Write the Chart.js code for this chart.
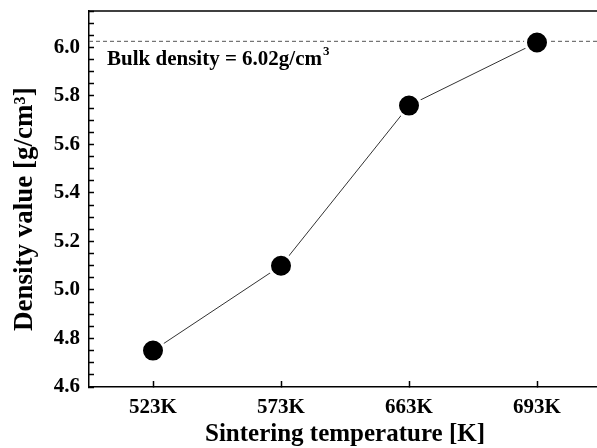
<!DOCTYPE html>
<html>
<head>
<meta charset="utf-8">
<script src="https://cdn.jsdelivr.net/npm/chart.js@4.4.1/dist/chart.umd.min.js"></script>
<style>
  html, body { margin: 0; padding: 0; background: #fff; overflow: hidden; }
  #wrap { width: 601px; height: 448px; }
</style>
</head>
<body>
<div id="wrap"><canvas id="densityChart"></canvas></div>
<script>
// data
const temperatures = ['523K', '573K', '663K', '693K'];
const densityValues = [4.75, 5.10, 5.76, 6.02];
const bulkDensity = 6.025;
const bulkLabel = 'Bulk density = 6.02g/cm';
const yMin = 4.6, yMax = 6.15;

const serif = '"Liberation Serif", "Times New Roman", serif';

// dashed bulk line, label and top frame
const bulkLine = {
  id: 'bulkLine',
  beforeDatasetsDraw(chart) {
    const { ctx, chartArea } = chart;
    const y = chart.scales.y.getPixelForValue(bulkDensity);
    ctx.save();
    ctx.strokeStyle = '#555';
    ctx.lineWidth = 1;
    ctx.setLineDash([4, 3]);
    ctx.beginPath();
    ctx.moveTo(chartArea.left, y);
    ctx.lineTo(chartArea.right, y);
    ctx.stroke();
    ctx.setLineDash([]);

    ctx.fillStyle = '#000';
    ctx.textBaseline = 'alphabetic';
    ctx.font = 'bold 21px ' + serif;
    const x0 = chartArea.left + 18;
    ctx.fillText(bulkLabel, x0, y + 24);
    const w = ctx.measureText(bulkLabel).width;
    ctx.font = 'bold 13px ' + serif;
    ctx.fillText('3', x0 + w + 1, y + 14);

    ctx.strokeStyle = '#000';
    ctx.lineWidth = 1.5;
    ctx.beginPath();
    ctx.moveTo(chartArea.left, chartArea.top);
    ctx.lineTo(chartArea.right, chartArea.top);
    ctx.stroke();
    ctx.restore();
  }
};

new Chart(document.getElementById('densityChart'), {
  type: 'line',
  data: {
    labels: temperatures,
    datasets: [{
      data: densityValues,
      borderColor: '#333',
      borderWidth: 1,
      pointRadius: 11.5,
      pointHoverRadius: 11.5,
      pointBackgroundColor: '#000',
      pointBorderColor: '#fff',
      pointBorderWidth: 3,
      tension: 0
    }]
  },
  options: {
    responsive: true,
    maintainAspectRatio: false,
    animation: false,
    layout: { padding: { top: 11, right: 0, bottom: 0, left: 0 }, autoPadding: false },
    plugins: { legend: { display: false }, tooltip: { enabled: false } },
    scales: {
      x: {
        offset: true,
        afterFit(scale) {
          scale.height = 61;
          scale.paddingLeft = 0;
          scale.paddingRight = 0;
        },
        grid: { display: true, drawOnChartArea: false, offset: false, tickLength: -6, tickColor: '#000', tickWidth: 1.5 },
        border: { display: true, color: '#000', width: 1.5 },
        ticks: { color: '#000', padding: 14, font: { family: serif, size: 21, weight: 'bold' } },
        title: {
          display: true,
          text: 'Sintering temperature [K]',
          color: '#000',
          padding: { top: 0, bottom: 1 },
          font: { family: serif, size: 25, weight: 'bold', lineHeight: 1 }
        }
      },
      y: {
        min: yMin,
        max: yMax,
        afterFit(scale) {
          scale.width = 89;
          scale.paddingTop = 0;
          scale.paddingBottom = 0;
        },
        grid: { display: true, drawOnChartArea: false, tickLength: -5, tickColor: '#000', tickWidth: 1.5 },
        border: { display: true, color: '#000', width: 1.5 },
        ticks: {
          stepSize: 0.05,
          autoSkip: false,
          color: '#000',
          padding: 14,
          font: { family: serif, size: 21, weight: 'bold' },
          callback(v) {
            return Math.round(v * 100) % 20 === 0 ? v.toFixed(1) : '';
          }
        },
        title: {
          display: true,
          text: 'Density value [g/cm³]   ',
          color: '#000',
          padding: { top: 12, bottom: 0 },
          font: { family: serif, size: 27, weight: 'bold', lineHeight: 1 }
        }
      }
    }
  },
  plugins: [bulkLine]
});
</script>
</body>
</html>
